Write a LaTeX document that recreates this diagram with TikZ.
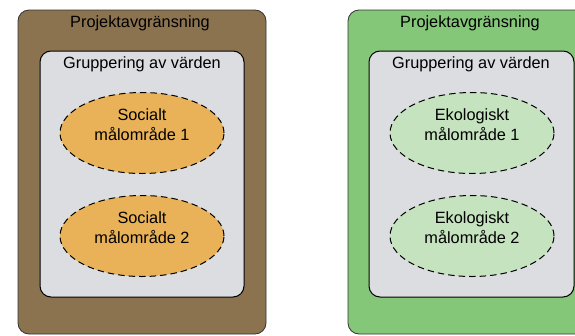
\documentclass[tikz,border=0pt]{standalone}
\usepackage{fontspec}
\setmainfont{Liberation Sans}
\usetikzlibrary{shapes.geometric}
\definecolor{brunbg}{RGB}{139,115,80}
\definecolor{gronbg}{RGB}{133,199,121}
\definecolor{gruppgra}{RGB}{220,221,225}
\definecolor{socialfill}{RGB}{233,178,88}
\definecolor{ekofill}{RGB}{196,227,190}

\begin{document}
\begin{tikzpicture}[x=1pt, y=-1pt, font=\fontsize{16.3}{20}\selectfont,
    avgransning/.style={draw=black!80, line width=0.8pt, rounded corners=11pt,
        minimum width=248pt, minimum height=324pt, inner sep=0pt},
    gruppering/.style={draw=black, fill=gruppgra, line width=1pt, rounded corners=11pt,
        minimum width=204pt, minimum height=246pt, inner sep=0pt},
    malomrade/.style={ellipse, draw=black, line width=1pt, dash pattern=on 6.5pt off 4pt,
        minimum width=164pt, minimum height=81pt, align=center, inner sep=0pt, text depth=16pt}]
    \useasboundingbox (0,0) rectangle (575,335);
    \clip (0,0) rectangle (575,335);

    % social sida
    \node (soc avgr) at (142,172) [avgransning, fill=brunbg] {};
    \node at (140,27) [anchor=base] {Projektavgränsning};
    \node (soc grupp) at (142,174) [gruppering] {};
    \node at (142,68) [anchor=base] {Gruppering av värden};
    \node (soc mal1) at (142,133) [malomrade, fill=socialfill] {Socialt\\målområde 1};
    \node (soc mal2) at (142,236) [malomrade, fill=socialfill] {Socialt\\målområde 2};

    % ekologisk sida
    \node (eko avgr) at (472,172) [avgransning, fill=gronbg] {};
    \node at (470,27) [anchor=base] {Projektavgränsning};
    \node (eko grupp) at (471.5,174) [gruppering, minimum width=205pt] {};
    \node at (471,68) [anchor=base] {Gruppering av värden};
    \node (eko mal1) at (472,133) [malomrade, fill=ekofill] {Ekologiskt\\målområde 1};
    \node (eko mal2) at (472,236) [malomrade, fill=ekofill] {Ekologiskt\\målområde 2};
\end{tikzpicture}
\end{document}
